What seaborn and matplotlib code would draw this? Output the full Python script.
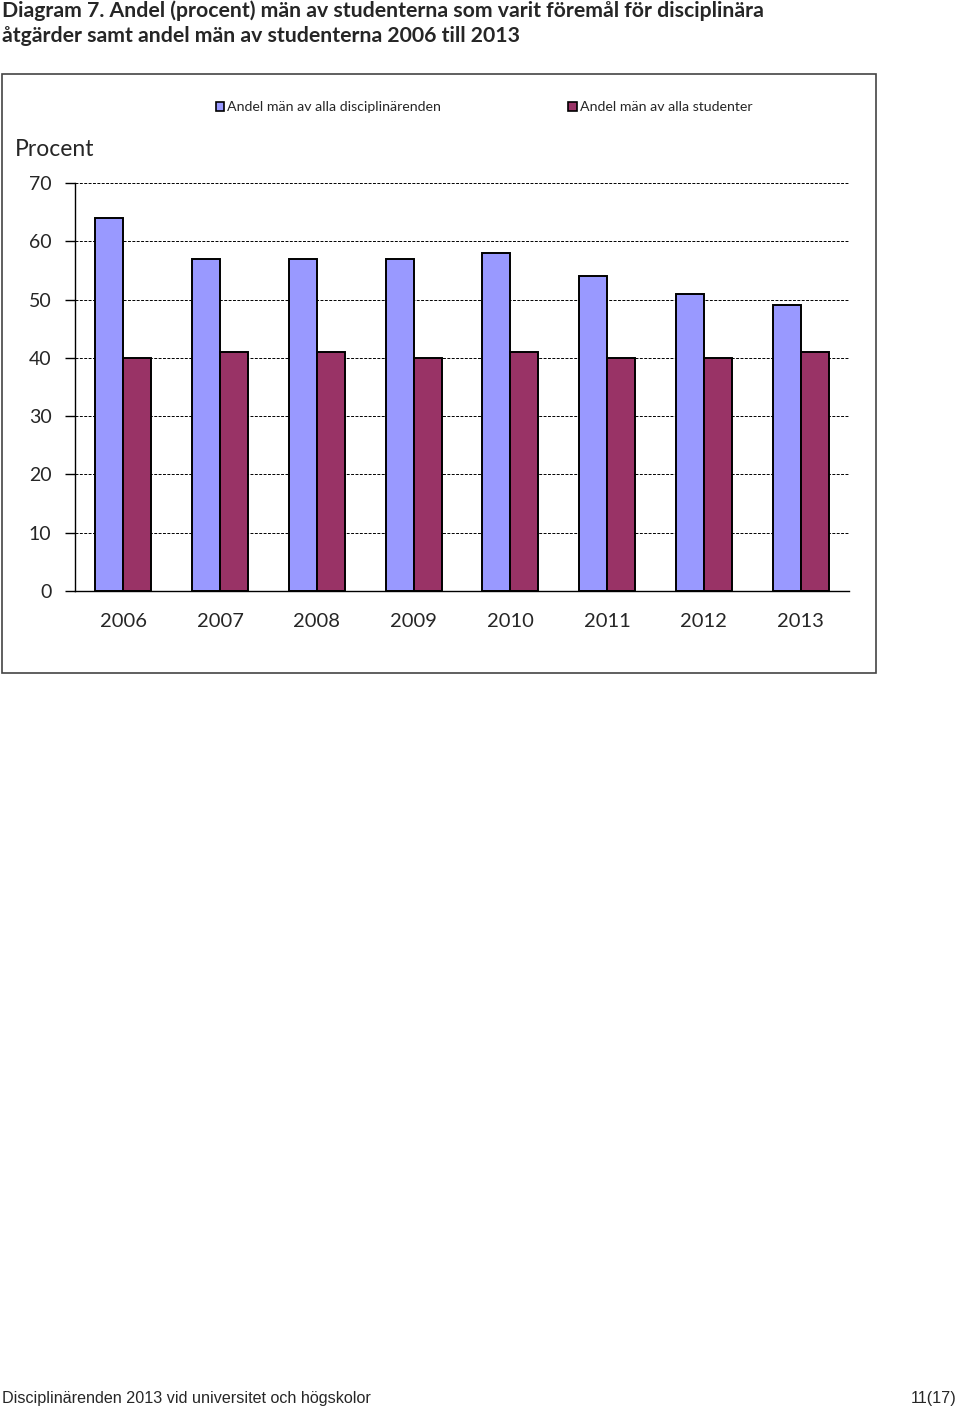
import matplotlib
matplotlib.use("Agg")
import matplotlib.pyplot as plt
import seaborn as sns
import pandas as pd
from matplotlib.patches import Rectangle, Patch

years = ["2006", "2007", "2008", "2009", "2010", "2011", "2012", "2013"]
series_names = ["Andel män av alla disciplinärenden", "Andel män av alla studenter"]
andel_disciplin = [64, 57, 57, 57, 58, 54, 51, 49]
andel_studenter = [40, 41, 41, 40, 41, 40, 40, 41]
yticks = [0, 10, 20, 30, 40, 50, 60, 70]
colors = ["#9999FF", "#993366"]

df = pd.DataFrame({
    "year": years * 2,
    "value": andel_disciplin + andel_studenter,
    "series": [series_names[0]] * len(years) + [series_names[1]] * len(years),
})

sns.set_style("white")
plt.rcParams["font.family"] = ["Lato", "DejaVu Sans"]

W, H = 960, 1409
fig = plt.figure(figsize=(W / 100, H / 100), dpi=100)

# chart frame
fig.patches.append(Rectangle((2 / W, 1 - 673 / H), 874 / W, 599 / H, transform=fig.transFigure,
                             fill=False, edgecolor="#444444", linewidth=1.2, zorder=0))

ax = fig.add_axes([75 / W, 1 - 591 / H, 774 / W, 408 / H])
sns.barplot(data=df, x="year", y="value", hue="series", palette=colors, width=0.58,
            edgecolor="black", linewidth=1.4, ax=ax, legend=False, saturation=1)

ax.set_xlim(-0.5, len(years) - 0.5)
ax.set_ylim(0, 70)
ax.set_yticks(yticks)
ax.set_yticklabels([str(v) for v in yticks], fontsize=14)
ax.set_xticks(range(len(years)))
ax.set_xticklabels(years, fontsize=14.5)
ax.set_xticks([i - 0.5 for i in range(len(years) + 1)], minor=True)
ax.tick_params(axis="x", which="major", length=0, pad=16)
ax.tick_params(axis="x", which="minor", length=6, width=1, color="black", direction="out")
ax.tick_params(axis="y", length=7, width=1, color="black", direction="out", pad=10, left=True)
ax.set_xlabel("")
ax.set_ylabel("")
ax.set_axisbelow(True)
for v in yticks[1:]:
    ax.axhline(v, color="black", linestyle=(0, (3, 1.5)), linewidth=0.7, zorder=0.5, clip_on=False)
sns.despine(ax=ax)
for s in ["left", "bottom"]:
    ax.spines[s].set_color("black")
    ax.spines[s].set_linewidth(1.0)

fig.text(15 / W, 1 - 150 / H, "Procent", fontsize=16.5, va="center", ha="left")

handles = [Patch(facecolor=c, edgecolor="black", linewidth=1.2) for c in colors]
fig.legend(handles, series_names, ncol=2, loc="center", bbox_to_anchor=(484 / W, 1 - 107 / H),
           frameon=False, fontsize=10.2, handlelength=0.6, handleheight=0.6, handletextpad=0.2,
           columnspacing=9.0)

fig.text(2 / W, 1 - 11 / H, "Diagram 7. Andel (procent) män av studenterna som varit föremål för disciplinära",
         fontsize=15.3, fontweight="bold", va="center", ha="left")
fig.text(2 / W, 1 - 36 / H, "åtgärder samt andel män av studenterna 2006 till 2013",
         fontsize=15.3, fontweight="bold", va="center", ha="left")

fig.text(2 / W, 1 - 1399 / H, "Disciplinärenden 2013 vid universitet och högskolor",
         fontsize=11.6, va="center", ha="left", family=["Liberation Sans", "DejaVu Sans"])
fig.text(957 / W, 1 - 1399 / H, "11(17)",
         fontsize=11.6, va="center", ha="right", family=["Liberation Sans", "DejaVu Sans"])

fig.savefig("out.png", dpi=100)
